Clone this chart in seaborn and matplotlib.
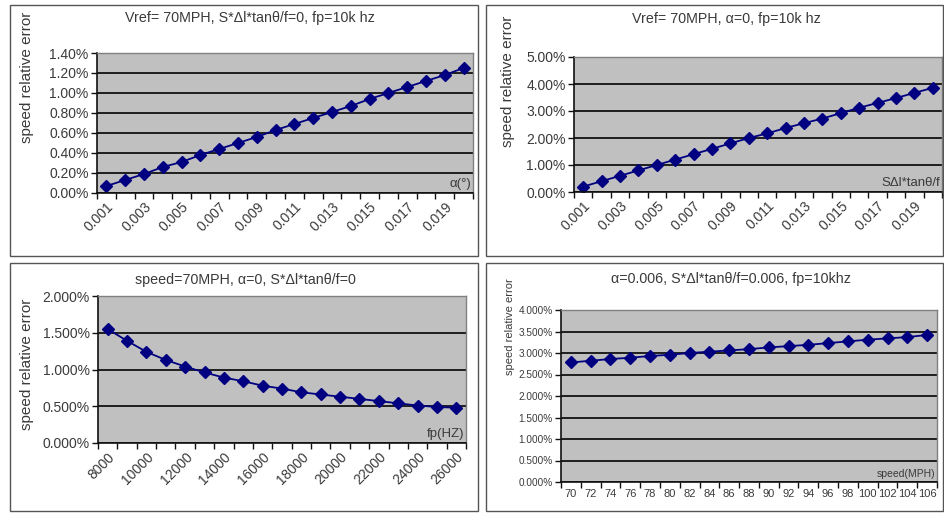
import numpy as np
import pandas as pd
import matplotlib
matplotlib.use("Agg")
import matplotlib.pyplot as plt
import seaborn as sns
from matplotlib.ticker import FixedLocator, MultipleLocator, PercentFormatter
from matplotlib.patches import Rectangle

# ---- data (relative error in percent) ----
ratio_cats = ["0.001", "0.002", "0.003", "0.004", "0.005", "0.006", "0.007",
              "0.008", "0.009", "0.010", "0.011", "0.012", "0.013", "0.014",
              "0.015", "0.016", "0.017", "0.018", "0.019", "0.020"]
alpha_err = [0.07, 0.13, 0.19, 0.26, 0.31, 0.38, 0.44, 0.50, 0.56, 0.63,
             0.69, 0.75, 0.81, 0.87, 0.94, 1.00, 1.06, 1.12, 1.18, 1.25]
sdl_err = [0.20, 0.40, 0.60, 0.80, 1.00, 1.20, 1.40, 1.60, 1.80, 2.00,
           2.17, 2.37, 2.55, 2.72, 2.92, 3.12, 3.30, 3.48, 3.67, 3.86]

fp_cats = [8000, 9000, 10000, 11000, 12000, 13000, 14000, 15000, 16000, 17000,
           18000, 19000, 20000, 21000, 22000, 23000, 24000, 25000, 26000]
fp_err = [1.55, 1.39, 1.24, 1.13, 1.04, 0.96, 0.89, 0.84, 0.78, 0.74,
          0.69, 0.66, 0.63, 0.60, 0.57, 0.54, 0.51, 0.49, 0.48]

speed_cats = [70, 72, 74, 76, 78, 80, 82, 84, 86, 88, 90, 92, 94, 96, 98,
              100, 102, 104, 106]
speed_err = [2.78, 2.82, 2.86, 2.89, 2.93, 2.96, 3.00, 3.03, 3.06, 3.09,
             3.13, 3.16, 3.19, 3.23, 3.27, 3.31, 3.34, 3.37, 3.42]

titles = ["Vref= 70MPH, S*\u0394l*tan\u03b8/f=0, fp=10k hz",
          "Vref= 70MPH, \u03b1=0, fp=10k hz",
          "speed=70MPH, \u03b1=0, S*\u0394l*tan\u03b8/f=0",
          "\u03b1=0.006, S*\u0394l*tan\u03b8/f=0.006, fp=10khz"]
axis_names = ["\u03b1(\u00b0)", "S\u0394l*tan\u03b8/f", "fp(HZ)", "speed(MPH)"]

# ---- style ----
sns.set_style("white")
plt.rcParams["font.family"] = ["Liberation Sans", "DejaVu Sans"]
TXT = "#3a3a3a"
NAVY = "#000080"
PLOT_BG = "#c0c0c0"

W, H = 945, 514
fig = plt.figure(figsize=(W / 100, H / 100), dpi=100)
fig.patch.set_facecolor("white")


def px_axes(l, t, r, b):
    return fig.add_axes([l / W, 1 - b / H, (r - l) / W, (b - t) / H])


def px_box(l, t, r, b):
    fig.patches.append(Rectangle((l / W, 1 - b / H), (r - l) / W, (b - t) / H,
                                 transform=fig.transFigure, fill=False,
                                 edgecolor="#555555", linewidth=1.0))


def fig_text(x, y, s, **kw):
    fig.text(x / W, 1 - y / H, s, color=TXT, **kw)


# chart frames
px_box(10, 5, 478, 256)
px_box(486, 5, 943, 256)
px_box(10, 263, 478, 511)
px_box(486, 263, 943, 511)


def panel(ax, cats, vals, ymax, ystep, decimals, label_every, rotate,
          ytick_size, xtick_size, name):
    df = pd.DataFrame({"cat": [str(c) for c in cats], "err": vals})
    order = [str(c) for c in cats]
    sns.pointplot(data=df, x="cat", y="err", order=order, ax=ax,
                  color=NAVY, markers="D", markersize=6.5, linewidth=1.3,
                  errorbar=None)
    n = len(cats)
    ax.set_facecolor(PLOT_BG)
    ax.set_xlim(-0.5, n - 0.5)
    ax.set_ylim(0, ymax)
    ax.yaxis.set_major_locator(MultipleLocator(ystep))
    ax.yaxis.set_major_formatter(PercentFormatter(xmax=100, decimals=decimals))
    ax.grid(axis="y", color="#111111", linewidth=1.3)
    ax.grid(axis="x", visible=False)
    ax.set_axisbelow(True)

    ax.xaxis.set_major_locator(FixedLocator(np.arange(n)))
    ax.set_xticklabels([order[i] if i % label_every == 0 else ""
                        for i in range(n)])
    ax.xaxis.set_minor_locator(FixedLocator(np.arange(n + 1) - 0.5))
    ax.tick_params(axis="x", which="major", length=0, pad=5,
                   labelsize=xtick_size, labelcolor=TXT)
    ax.tick_params(axis="x", which="minor", length=4, width=1,
                   direction="out", bottom=True, color="#111111")
    ax.tick_params(axis="y", length=4, width=1, direction="out", left=True,
                   labelsize=ytick_size, labelcolor=TXT, color="#111111", pad=2)
    if rotate:
        for t in ax.get_xticklabels():
            t.set_rotation(45)
            t.set_ha("right")
            t.set_rotation_mode("anchor")
    ax.set_xlabel("")
    ax.set_ylabel("")
    for side in ("left", "bottom"):
        ax.spines[side].set_color("#111111")
        ax.spines[side].set_linewidth(1.2)
    for side in ("top", "right"):
        ax.spines[side].set_color("#808080")
        ax.spines[side].set_linewidth(1.0)
    ax.text(0.995, 0.02, name, transform=ax.transAxes, ha="right",
            va="bottom", fontsize=xtick_size - 0.5, color=TXT)


ax1 = px_axes(97, 53, 473, 193)
panel(ax1, ratio_cats, alpha_err, 1.4, 0.2, 2, 2, True, 10, 10, axis_names[0])

ax2 = px_axes(574, 57, 942, 192)
panel(ax2, ratio_cats, sdl_err, 5.0, 1.0, 2, 2, True, 10, 10, axis_names[1])

ax3 = px_axes(98, 296, 466, 443)
panel(ax3, fp_cats, fp_err, 2.0, 0.5, 3, 2, True, 10, 10, axis_names[2])

ax4 = px_axes(561, 310, 937, 482)
panel(ax4, speed_cats, speed_err, 4.0, 0.5, 3, 1, False, 7.2, 8, axis_names[3])

# chart titles
fig_text(250, 18, titles[0], ha="center", va="center", fontsize=10.3)
fig_text(726, 19, titles[1], ha="center", va="center", fontsize=10.3)
fig_text(245, 280, titles[2], ha="center", va="center", fontsize=10.3)
fig_text(731, 279, titles[3], ha="center", va="center", fontsize=10.3)

# value-axis titles
fig_text(27, 77, "speed relative error", ha="center", va="center",
         rotation=90, fontsize=11)
fig_text(508, 81, "speed relative error", ha="center", va="center",
         rotation=90, fontsize=11)
fig_text(27, 364, "speed relative error", ha="center", va="center",
         rotation=90, fontsize=11)
fig_text(510, 327, "speed relative error", ha="center", va="center",
         rotation=90, fontsize=8)

fig.savefig("out.png", dpi=100, facecolor="white")
